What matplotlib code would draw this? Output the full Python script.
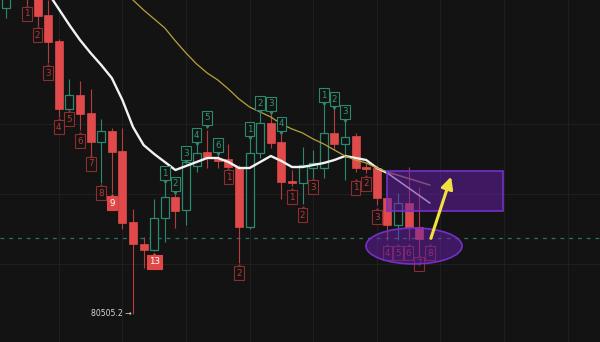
import numpy as np
import matplotlib.pyplot as plt
from matplotlib.patches import Rectangle, Ellipse

# candle data (index 0 = first labelled bar)
idx = np.arange(-2, 38)
opens = [83565, 83945, 84045, 83845, 83495, 83235, 82555, 82695, 82515, 82225,
         82335, 82135, 81425, 81205, 81145, 81465, 81675, 81545, 81985, 82125,
         82055, 82055, 81975, 81375, 82115, 82415, 82225, 81835, 81815, 81965,
         81965, 82315, 82205, 82285, 81975, 81965, 81665, 81395, 81615, 81375]
highs = [83795, 84000, 84145, 83945, 83645, 83255, 82855, 82835, 82755, 82455,
         82365, 82365, 81555, 81275, 81655, 81815, 81705, 82045, 82205, 82345,
         82125, 82205, 81995, 82265, 82515, 82515, 82315, 81945, 82175, 82145,
         82595, 82565, 82465, 82315, 82015, 81995, 81675, 81715, 81975, 81775]
lows = [83465, 83700, 83595, 83385, 83015, 82475, 82495, 82345, 82045, 81815,
        81715, 81355, 80505.2, 80965, 81135, 81225, 81365, 81395, 81925, 81965,
        81965, 81945, 81015, 81355, 82065, 82165, 81655, 81785, 81605, 81865,
        81865, 82145, 81845, 81925, 81915, 81595, 81245, 81245, 81245, 81015]
closes = [83745, 83745, 83745, 83485, 83225, 82555, 82695, 82505, 82225, 82335,
          82125, 81415, 81205, 81145, 81465, 81675, 81535, 82025, 82115, 82065,
          82035, 81975, 81375, 82115, 82415, 82215, 81825, 81815, 81995, 82015,
          82315, 82205, 82275, 81965, 81955, 81665, 81395, 81615, 81375, 81255]

# moving averages
ma_fast = [84045, 83875, 83715, 83555, 83395, 83245, 83115, 82995, 82865, 82645,
           82375, 82195, 82105, 82025, 81945, 81985, 82025, 82065, 82065, 82025,
           81965, 81965, 82025, 82085, 82035, 81975, 81975, 81995, 82015, 82045,
           82085, 82065, 82045, 81965, 81915]
ma_slow = [83765, 83645, 83545, 83455, 83365, 83235, 83115, 83005, 82915, 82845,
           82755, 82655, 82575, 82525, 82475, 82405, 82355, 82315, 82255, 82205,
           82145, 82085, 82045, 82015, 81965, 81925]
fast_proj = [81915, 81615]
slow_proj = [81925, 81795]

# sequential count labels: bar, text, price, style
lab_bar = [0, 1, 2, 3, 4, 5, 6, 7, 8, 12, 13, 14, 15, 16, 17, 18, 19, 20, 21, 22,
           23, 24, 25, 26, 27, 28, 29, 30, 31, 32, 33, 34, 35, 36, 37, 38]
lab_txt = ['1', '2', '3', '4', '5', '6', '7', '8', '9', '13', '1', '2', '3', '4',
           '5', '6', '1', '2', '1', '2', '3', '4', '1', '2', '3', '1', '2', '3',
           '1', '2', '3', '4', '5', '6', '7', '8']
lab_y = [83505, 83295, 82915, 82375, 82455, 82235, 82005, 81715, 81615, 81025,
         81915, 81805, 82115, 82295, 82465, 82195, 81875, 80915, 82355, 82615,
         82605, 82405, 81675, 81495, 81775, 82695, 82655, 82525, 81765, 81805,
         81475, 81115, 81115, 81115, 81005, 81115]
lab_kind = ['r'] * 8 + ['R', 'R'] + ['g'] * 6 + ['r', 'r'] + ['g'] * 4 + ['r'] * 3 \
           + ['g'] * 3 + ['r'] * 8

low_price = 80505.2
support = 81265
grid_bars = np.arange(3, 54, 6)
grid_prices = [82405, 81705, 81005]

bg = '#131313'
red = '#e04a4a'
green = '#2b8a6e'

fig = plt.figure(figsize=(6, 3.42), dpi=100)
ax = fig.add_axes([0, 0, 1, 1])
ax.set_facecolor(bg)
fig.patch.set_facecolor(bg)
ax.set_xlim(-27 / 10.6, 573 / 10.6)
ax.set_ylim(80225, 83645)
ax.axis('off')

for g in grid_bars:
    ax.axvline(g, color='#1f1f1f', lw=0.8, zorder=0)
for g in grid_prices:
    ax.axhline(g, color='#1f1f1f', lw=0.8, zorder=0)

ax.axhline(support, color='#2a7462', lw=0.9, ls=(0, (3, 4)), zorder=1)

w = 0.75
for i, o, h, l, c in zip(idx, opens, highs, lows, closes):
    if c >= o:
        ax.vlines(i, l, o, color=green, lw=0.8, zorder=2)
        ax.vlines(i, c, h, color=green, lw=0.8, zorder=2)
        ax.add_patch(Rectangle((i - w / 2, o), w, c - o, facecolor=bg,
                               edgecolor=green, lw=0.9, zorder=3))
    else:
        ax.vlines(i, l, h, color='#b83c3c', lw=0.8, zorder=2)
        ax.add_patch(Rectangle((i - w / 2, c), w, o - c, facecolor=red,
                               edgecolor=red, lw=0.5, zorder=3))

ax.plot(np.arange(0, 35), ma_fast, color='#f2f2f2', lw=1.7, zorder=4)
ax.plot(np.arange(9, 35), ma_slow, color='#b8a23a', lw=0.9, zorder=4)
ax.plot([34, 38], fast_proj, color='#e8e8e8', lw=1.1, zorder=4)
ax.plot([34, 38], slow_proj, color='#a07a50', lw=1.1, zorder=4)

for b, t, y, k in zip(lab_bar, lab_txt, lab_y, lab_kind):
    if k == 'g':
        tc, fc, ec = '#33957a', bg, '#2b8a6e'
        ax.plot(b, y - 75, marker='v', ms=2.6, color=ec, mec=ec, zorder=5)
    elif k == 'r':
        tc, fc, ec = '#b83a3a', bg, '#8e2d2d'
        ax.plot(b, y + 75, marker='^', ms=2.6, color=ec, mec=ec, zorder=5)
    else:
        tc, fc, ec = 'white', '#e04848', '#e04848'
        ax.plot(b, y + 75, marker='^', ms=2.6, color=ec, mec=ec, zorder=5)
    ax.text(b, y, t, ha='center', va='center', fontsize=6.3, color=tc,
            zorder=5, bbox=dict(boxstyle='square,pad=0.24', fc=fc, ec=ec, lw=0.8))

ax.text(9.85, low_price, '80505.2 \u2192', ha='right', va='center',
        fontsize=5.6, color='#d8d8d8', zorder=5)

# projection zone and circled base
ax.add_patch(Rectangle((33.96, 81535), 44.9 - 33.96, 400, facecolor='#6a1fb0',
                       alpha=0.5, edgecolor='none', zorder=6))
ax.add_patch(Rectangle((33.96, 81535), 44.9 - 33.96, 400, facecolor='none',
                       edgecolor='#7330c8', lw=1.2, zorder=6))
ax.add_patch(Ellipse((36.51, 81185), 9.06, 360, facecolor='#6a1fb0',
                     alpha=0.5, edgecolor='none', zorder=6))
ax.add_patch(Ellipse((36.51, 81185), 9.06, 360, facecolor='none',
                     edgecolor='#7330c8', lw=1.2, zorder=6))

ax.annotate('', xy=(40.09, 81905), xytext=(38.02, 81235),
            arrowprops=dict(arrowstyle='-|>,head_length=0.7,head_width=0.35',
                            color='#f0e040', lw=2.2), zorder=7)

fig.savefig('out.png', dpi=100, facecolor=bg)
